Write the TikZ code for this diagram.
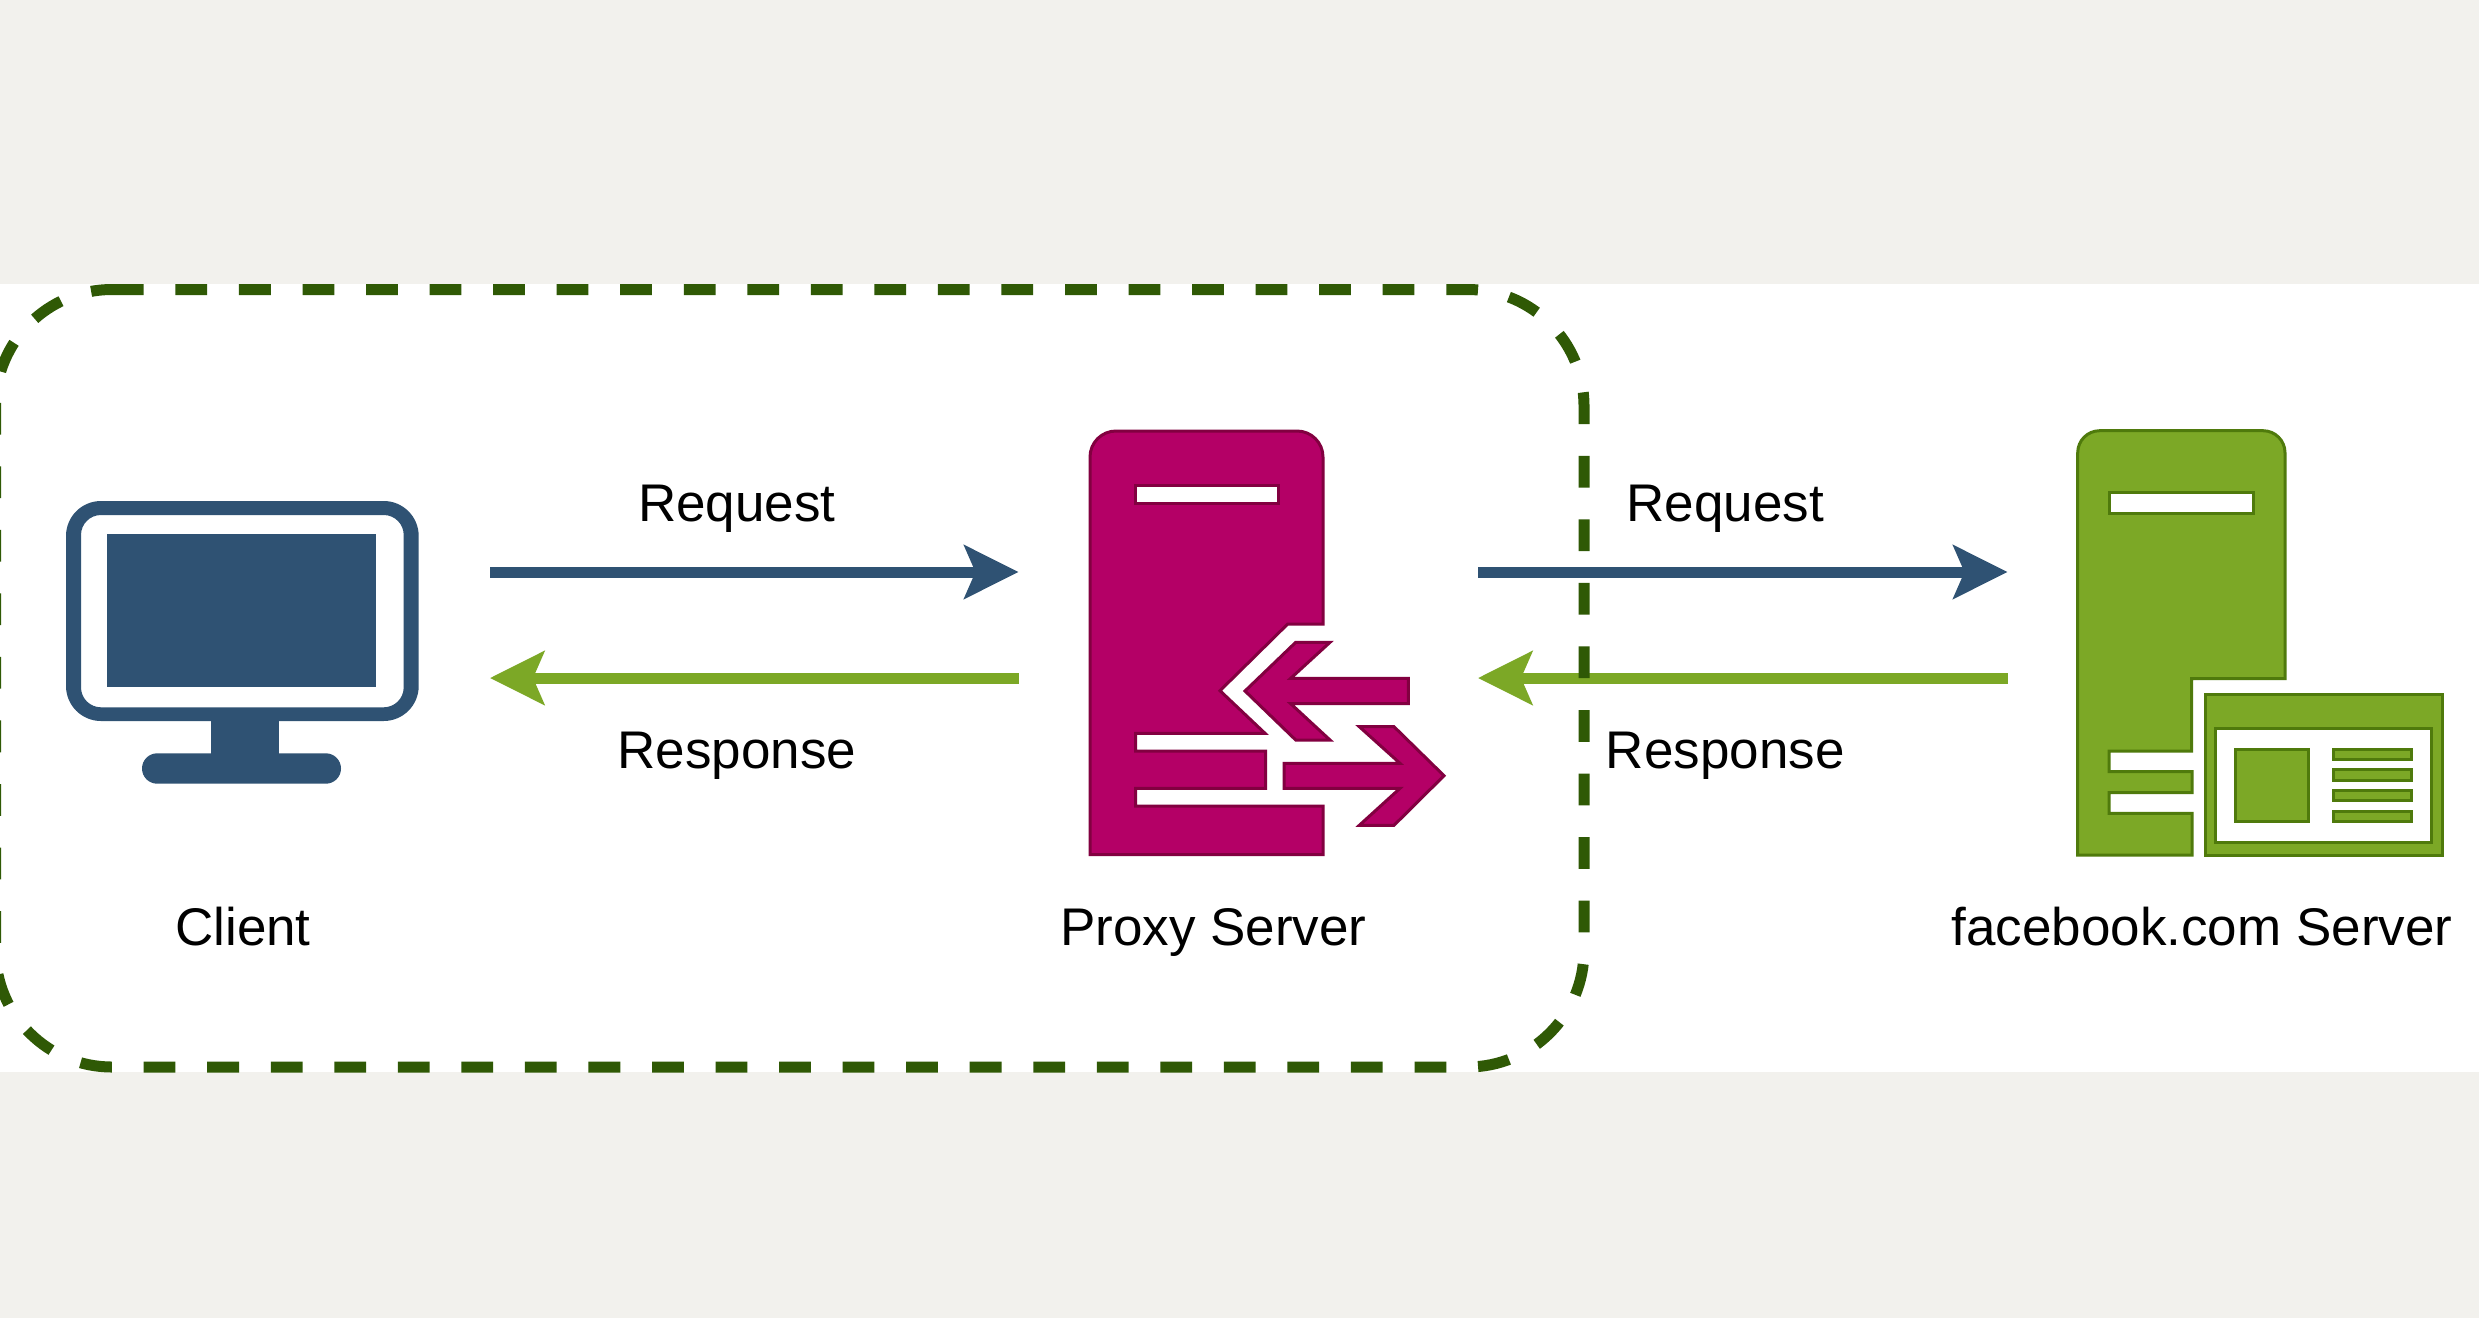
\documentclass[tikz,border=0pt]{standalone}
\usepackage{fontspec}
\setmainfont{Liberation Sans}
\usepackage{xcolor}
\usetikzlibrary{positioning,arrows.meta}

\definecolor{pagegray}{HTML}{F2F1ED}
\definecolor{clientblue}{HTML}{2F5273}
\definecolor{fbgreen}{HTML}{7CA826}
\definecolor{fbedge}{HTML}{4F7A0C}
\definecolor{proxypink}{HTML}{B40066}
\definecolor{proxyedge}{HTML}{820040}
\definecolor{zonegreen}{HTML}{2F5905}

\tikzset{
  lbl/.style={font=\fontsize{26.5pt}{30pt}\selectfont,inner sep=0pt,text height=19pt,text depth=5.5pt},
  reqarrow/.style={draw=clientblue,line width=5.5pt,-{Stealth[length=27pt,width=26.5pt,inset=5.5pt]}},
  resparrow/.style={draw=fbgreen,line width=5.5pt,-{Stealth[length=27pt,width=26.5pt,inset=5.5pt]}},
  proxyshape/.style={fill=proxypink,draw=proxyedge,line width=1.5pt},
  fbshape/.style={fill=fbgreen,draw=fbedge,line width=1.5pt},
  proxyslot/.style={fill=white,draw=proxyedge,line width=1.5pt},
  fbslot/.style={fill=white,draw=fbedge,line width=1.5pt},
  zone/.style={draw=zonegreen,line width=5.5pt,dash pattern=on 15.885pt off 15.885pt}
}

\begin{document}
\begin{tikzpicture}[x=.5pt,y=-.5pt]
    \useasboundingbox (0,0) rectangle (2479,1318);
    \fill[pagegray] (0,0) rectangle (2479,1318);
    \fill[white] (0,284) rectangle (2479,1072);

    \coordinate (clientout) at (490,572);
    \coordinate (proxyin) at (1018.5,572);
    \coordinate (proxyback) at (1018.5,678);
    \coordinate (clientin) at (490,678);
    \coordinate (proxyout) at (1478,572);
    \coordinate (fbin) at (2007.5,572);
    \coordinate (fbback) at (2007.5,678);
    \coordinate (proxyret) at (1478,678);

    \draw[reqarrow] (clientout) -- node[lbl,pos=.467,above=16.8pt] (req1) {Request} (proxyin);
    \draw[resparrow] (proxyback) -- node[lbl,pos=.533,below=23.7pt] (resp1) {Response} (clientin);
    \draw[reqarrow] (proxyout) -- node[lbl,pos=.467,above=16.8pt] (req2) {Request} (fbin);
    \draw[resparrow] (fbback) -- node[lbl,pos=.533,below=23.7pt] (resp2) {Response} (proxyret);

    % monitor
    \fill[clientblue,even odd rule,rounded corners=17.5pt] (66,501) rectangle (418.7,721)
      [rounded corners=10pt] (81,515) rectangle (403.7,707.3);
    \fill[clientblue] (107.3,534) rectangle (375.7,686.7);
    \fill[clientblue] (211,721) rectangle (279.3,755);
    \fill[clientblue,rounded corners=7.6pt] (142,753.3) rectangle (341,783.7);

    % proxy
    \draw[proxyshape] (1090,600) [rounded corners=13pt] -- (1090,431) -- (1323,431) [sharp corners] -- (1323,624)
      -- (1287.7,624) -- (1220,690.7) -- (1265,733.3) -- (1135.7,733.3) -- (1135.7,751) -- (1265.7,751)
      -- (1265.7,788.3) -- (1135.7,788.3) -- (1135.7,806) -- (1323,806) -- (1323,854.7) -- (1090,854.7) -- cycle;
    \draw[proxyslot] (1135,485) rectangle (1278,503);
    \draw[proxyshape] (1245,691) -- (1295.7,642.3) -- (1330,642.3) -- (1290.7,678.3) -- (1408.3,678.3)
      -- (1408.3,703.7) -- (1290.7,703.7) -- (1330,740) -- (1295.7,740) -- cycle;
    \draw[proxyshape] (1444,775.7) -- (1394,726.7) -- (1359.3,726.7) -- (1400,763.3) -- (1284,763.3)
      -- (1284,788.3) -- (1400,788.3) -- (1359.3,825.3) -- (1394,825.3) -- cycle;

    % facebook server
    \draw[fbshape] (2077.7,600) [rounded corners=11pt] -- (2077.7,430.7) -- (2285,430.7) [sharp corners] -- (2285,678.7)
      -- (2191.7,678.7) -- (2191.7,751) -- (2109,751) -- (2109,771.7) -- (2192,771.7) -- (2192,792.7)
      -- (2109,792.7) -- (2109,813.3) -- (2192,813.3) -- (2192,855) -- (2077.7,855) -- cycle;
    \draw[fbslot] (2109,492.7) rectangle (2253.3,513.3);
    \draw[fbshape] (2205.7,694) rectangle (2442.7,855);
    \draw[fbslot] (2215.3,728.3) rectangle (2431.3,842);
    \draw[fbshape] (2235.7,749) rectangle (2308,821.7);
    \draw[fbshape] (2333.3,749) rectangle (2411,759.7);
    \draw[fbshape] (2333.3,769.3) rectangle (2411,780);
    \draw[fbshape] (2333.3,790) rectangle (2411,800.7);
    \draw[fbshape] (2333.3,811) rectangle (2411,821.7);

    \node[lbl,anchor=base] (client) at (243,945) {Client};
    \node[lbl,anchor=base] (proxy) at (1213.5,945) {Proxy Server};
    \node[lbl,anchor=base] (fb) at (2202,945) {facebook.com Server};

    % dashed zone
    \draw[zone] (111.9,289.5) -- (1467.6,289.5) .. controls (1531.9,289.5) and (1584,341.6) .. (1584,405.9)
      -- (1584,950.6) .. controls (1584,1014.9) and (1531.9,1067) .. (1467.6,1067)
      -- (111.9,1067) .. controls (47.6,1067) and (-4.5,1014.9) .. (-4.5,950.6)
      -- (-4.5,405.9) .. controls (-4.5,341.6) and (47.6,289.5) .. (111.9,289.5) -- cycle;
\end{tikzpicture}
\end{document}
